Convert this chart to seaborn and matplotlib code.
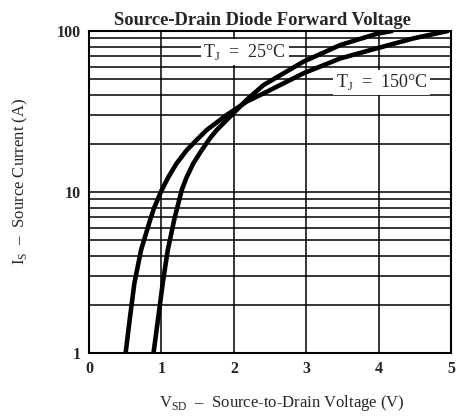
import matplotlib
matplotlib.use("Agg")
import matplotlib.pyplot as plt
import numpy as np
import pandas as pd
import seaborn as sns

# curve readings (V, A)
v_150 = [0.505, 0.566, 0.626, 0.718, 0.843, 0.895, 1.004, 1.096, 1.211, 1.349, 1.51, 1.626, 1.90, 2.18, 2.41, 2.96, 3.47, 3.97, 4.48, 4.95]
i_150 = [1.0, 1.68, 2.71, 4.36, 6.70, 7.9, 10.3, 12.4, 15.1, 18.2, 21.6, 24.3, 30.1, 36.5, 41, 54.6, 67.6, 78, 90, 100]
v_25 = [0.89, 0.957, 1.017, 1.087, 1.175, 1.215, 1.28, 1.349, 1.441, 1.556, 1.671, 1.764, 1.96, 2.18, 2.41, 2.96, 3.47, 3.97, 4.18]
i_25 = [1.0, 1.68, 2.71, 4.36, 6.70, 7.9, 10.3, 12.4, 15.1, 18.2, 21.6, 24.3, 29.8, 37.5, 46.2, 64.5, 81.9, 96, 100]

x_ticks = [0, 1, 2, 3, 4, 5]
y_ticks = [1, 10, 100]

df = pd.concat([
    pd.DataFrame({"V": v_150, "I": i_150, "T": "150"}),
    pd.DataFrame({"V": v_25, "I": i_25, "T": "25"}),
])

sns.set_style("white")
plt.rcParams['font.family'] = ['Liberation Serif', 'DejaVu Serif']
plt.rcParams['mathtext.fontset'] = 'custom'
plt.rcParams['mathtext.rm'] = 'Liberation Serif'

fig = plt.figure(figsize=(4.59, 4.19), dpi=100)
ax = fig.add_axes([0.194, 0.1575, 0.789, 0.7685])

ax.set_yscale('log')
sns.lineplot(data=df, x="V", y="I", units="T", estimator=None, sort=False,
             color="black", lw=3.3, ax=ax, zorder=5)

ax.set_xlim(0, 5)
ax.set_ylim(1, 100)
ax.set_xticks(x_ticks)
ax.set_xticklabels([str(t) for t in x_ticks], fontsize=11.5, fontweight='bold')
ax.set_yticks(y_ticks)
ax.set_yticklabels([str(t) for t in y_ticks], fontsize=11.5, fontweight='bold')
ax.yaxis.set_minor_formatter(matplotlib.ticker.NullFormatter())
ax.tick_params(which='both', length=0, pad=6)
ax.grid(which='major', axis='both', color='black', lw=1.1)
ax.grid(which='minor', axis='y', color='black', lw=1.1)
for s in ax.spines.values():
    s.set_color('black')
    s.set_linewidth(1.5)

ax.text(2.15, 74, r"T$_\mathregular{J}$  =  25°C", fontsize=13, ha='center', va='center',
        bbox=dict(facecolor='white', edgecolor='none', pad=2), zorder=4)
ax.text(4.04, 48, r"T$_\mathregular{J}$  =  150°C", fontsize=13, ha='center', va='center',
        bbox=dict(facecolor='white', edgecolor='none', pad=2), zorder=4)

ax.set_title("Source-Drain Diode Forward Voltage", fontsize=13.4, fontweight='bold', pad=4, x=0.48)
ax.set_xlabel(r"V$_\mathregular{SD}$  –  Source-to-Drain Voltage (V)", fontsize=12)
ax.set_ylabel(r"I$_\mathregular{S}$  –  Source Current (A)", fontsize=12)
ax.xaxis.set_label_coords(0.533, -0.124)
ax.yaxis.set_label_coords(-0.163, 0.534)

fig.savefig("out.png", dpi=100)
